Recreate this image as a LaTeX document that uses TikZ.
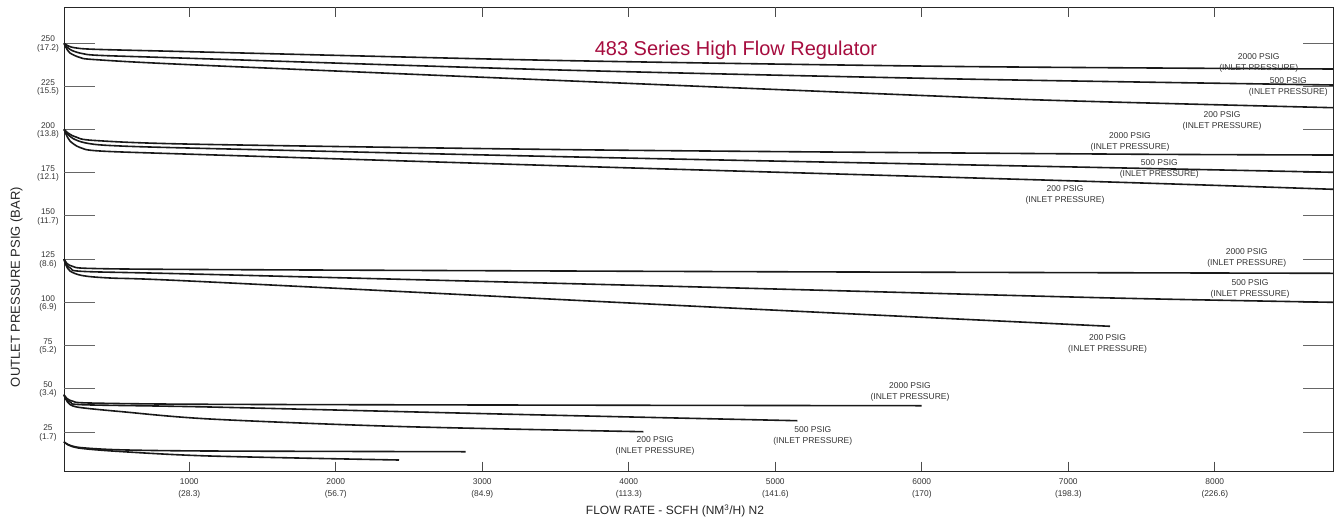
\documentclass[tikz,border=0pt]{standalone}
\usepackage{fontspec}
\setmainfont{Liberation Sans}
\definecolor{titlered}{RGB}{166,12,62}

\begin{document}
\begin{tikzpicture}[x=1pt,y=-1pt,
  curve/.style={line width=1.6pt,black!90,line join=round},
  ytick/.style={black!60,line width=0.9pt},
  xtick/.style={black!70,line width=0.9pt},
  ylab/.style={align=center,inner sep=0pt,text=black!80,font=\fontsize{8.3}{8.3}\selectfont},
  xlab/.style={align=center,inner sep=0pt,text=black!80,font=\fontsize{8.4}{11.6}\selectfont},
  inlet/.style={align=center,inner sep=0pt,text=black!80,font=\fontsize{8.5}{10.8}\selectfont}]
\useasboundingbox (0,0) rectangle (1338,520);
\draw[black!85,line width=1pt] (64,7) rectangle (1333,471);
% outlet pressure ticks, left and right
\draw[ytick] (64,43.0) -- (95,43.0);
\draw[ytick] (64,86.2) -- (95,86.2);
\draw[ytick] (64,129.4) -- (95,129.4);
\draw[ytick] (64,172.7) -- (95,172.7);
\draw[ytick] (64,215.9) -- (95,215.9);
\draw[ytick] (64,259.1) -- (95,259.1);
\draw[ytick] (64,302.3) -- (95,302.3);
\draw[ytick] (64,345.5) -- (95,345.5);
\draw[ytick] (64,388.7) -- (95,388.7);
\draw[ytick] (64,432.0) -- (95,432.0);
\draw[ytick] (1303,43.0) -- (1333,43.0);
\draw[ytick] (1303,86.2) -- (1333,86.2);
\draw[ytick] (1303,129.4) -- (1333,129.4);
\draw[ytick] (1303,172.7) -- (1333,172.7);
\draw[ytick] (1303,215.9) -- (1333,215.9);
\draw[ytick] (1303,259.1) -- (1333,259.1);
\draw[ytick] (1303,302.3) -- (1333,302.3);
\draw[ytick] (1303,345.5) -- (1333,345.5);
\draw[ytick] (1303,388.7) -- (1333,388.7);
\draw[ytick] (1303,432.0) -- (1333,432.0);
\node[ylab] (p250) at (48,44.0) {250\\(17.2)};
\node[ylab] (p225) at (48,87.2) {225\\(15.5)};
\node[ylab] (p200) at (48,130.4) {200\\(13.8)};
\node[ylab] (p175) at (48,173.7) {175\\(12.1)};
\node[ylab] (p150) at (48,216.9) {150\\(11.7)};
\node[ylab] (p125) at (48,260.1) {125\\(8.6)};
\node[ylab] (p100) at (48,303.3) {100\\(6.9)};
\node[ylab] (p75) at (48,346.5) {75\\(5.2)};
\node[ylab] (p50) at (48,389.7) {50\\(3.4)};
\node[ylab] (p25) at (48,433.0) {25\\(1.7)};
% flow rate ticks, top and bottom
\draw[xtick] (189.3,7) -- (189.3,17);
\draw[xtick] (335.8,7) -- (335.8,17);
\draw[xtick] (482.3,7) -- (482.3,17);
\draw[xtick] (628.8,7) -- (628.8,17);
\draw[xtick] (775.3,7) -- (775.3,17);
\draw[xtick] (921.8,7) -- (921.8,17);
\draw[xtick] (1068.3,7) -- (1068.3,17);
\draw[xtick] (1214.8,7) -- (1214.8,17);
\draw[xtick] (189.3,461.5) -- (189.3,471);
\draw[xtick] (335.8,461.5) -- (335.8,471);
\draw[xtick] (482.3,461.5) -- (482.3,471);
\draw[xtick] (628.8,461.5) -- (628.8,471);
\draw[xtick] (775.3,461.5) -- (775.3,471);
\draw[xtick] (921.8,461.5) -- (921.8,471);
\draw[xtick] (1068.3,461.5) -- (1068.3,471);
\draw[xtick] (1214.8,461.5) -- (1214.8,471);
\node[xlab] (q1000) at (189.3,488.4) {1000\\(28.3)};
\node[xlab] (q2000) at (335.8,488.4) {2000\\(56.7)};
\node[xlab] (q3000) at (482.3,488.4) {3000\\(84.9)};
\node[xlab] (q4000) at (628.8,488.4) {4000\\(113.3)};
\node[xlab] (q5000) at (775.3,488.4) {5000\\(141.6)};
\node[xlab] (q6000) at (921.8,488.4) {6000\\(170)};
\node[xlab] (q7000) at (1068.3,488.4) {7000\\(198.3)};
\node[xlab] (q8000) at (1214.8,488.4) {8000\\(226.6)};
% axis titles and heading
\node[rotate=90,inner sep=0pt,text=black!85,font=\fontsize{13}{15}\selectfont] (ytitle) at (16.5,287) {OUTLET PRESSURE PSIG (BAR)};
\node[inner sep=0pt,text=black!85,font=\fontsize{12}{14}\selectfont] (xtitle) at (675,511) {FLOW RATE - SCFH (NM\textsuperscript{3}/H) N2};
\node[anchor=base,inner sep=0pt,text=titlered,font=\fontsize{20}{24}\selectfont] (title) at (736,55) {483 Series High Flow Regulator};
% 250 psig set
\draw[curve] plot[smooth,tension=0.5] coordinates {(64,43.3) (68,45.8) (75,47.8) (95,49.3) (190,51.7) (560,60.5) (960,66.5) (1333,69)};
\draw[curve] plot[smooth,tension=0.5] coordinates {(64,43.3) (67,47) (72,50.5) (82,53.5) (100,55.4) (190,58.3) (560,70) (960,79) (1333,85)};
\draw[curve] plot[smooth,tension=0.5] coordinates {(64,43.3) (66,47.5) (70,53) (80,57.5) (95,59.6) (190,64.7) (560,80.5) (960,97) (1100,101.7) (1333,107.7)};
\node[inlet] (lbA2000) at (1258.7,63.0) {2000 PSIG\\(INLET PRESSURE)};
\node[inlet] (lbA500) at (1288.3,87.0) {500 PSIG\\(INLET PRESSURE)};
\node[inlet] (lbA200) at (1222,121.3) {200 PSIG\\(INLET PRESSURE)};
% 200 psig set
\draw[curve] plot[smooth,tension=0.5] coordinates {(64,129.3) (68,133) (76,137) (95,140.5) (200,144.3) (600,150) (1100,154) (1333,155)};
\draw[curve] plot[smooth,tension=0.5] coordinates {(64,129.3) (67,133.5) (73,138.5) (85,142.8) (110,145.5) (200,148.3) (600,157.5) (1100,167.5) (1333,172.3)};
\draw[curve] plot[smooth,tension=0.5] coordinates {(64,129.3) (66,134) (70,141) (80,147.5) (100,151) (200,154.5) (600,167) (1100,181.7) (1333,189.3)};
\node[inlet] (lbB2000) at (1130,142.3) {2000 PSIG\\(INLET PRESSURE)};
\node[inlet] (lbB500) at (1159.3,168.6) {500 PSIG\\(INLET PRESSURE)};
\node[inlet] (lbB200) at (1065,195.3) {200 PSIG\\(INLET PRESSURE)};
% 125 psig set
\draw[curve] plot[smooth,tension=0.5] coordinates {(64,259) (67,263.5) (73,266.5) (90,268.4) (200,269.5) (700,271.5) (1100,272.7) (1333,273.3)};
\draw[curve] plot[smooth,tension=0.5] coordinates {(64,259) (66,264) (71,268.5) (85,271.5) (200,274.2) (700,287) (1100,297.7) (1333,302.3)};
\draw[curve] plot[smooth,tension=0.5] coordinates {(64,259) (66,265) (70,271) (82,275.5) (110,278) (200,281.5) (700,306.5) (1110,326.3)};
\node[inlet] (lbC2000) at (1246.7,257.8) {2000 PSIG\\(INLET PRESSURE)};
\node[inlet] (lbC500) at (1250,289.0) {500 PSIG\\(INLET PRESSURE)};
\node[inlet] (lbC200) at (1107.5,343.6) {200 PSIG\\(INLET PRESSURE)};
% 50 psig set
\draw[curve] plot[smooth,tension=0.5] coordinates {(64,394.7) (67,398.5) (73,401.3) (90,403) (210,404.3) (600,405.2) (921.7,405.7)};
\draw[curve] plot[smooth,tension=0.5] coordinates {(64,394.7) (66,399) (71,402.5) (85,404.8) (210,407) (500,414) (797.3,420.7)};
\draw[curve] plot[smooth,tension=0.5] coordinates {(64,394.7) (66,399.5) (70,404.5) (80,407.5) (120,411.5) (210,419) (400,426.5) (643.3,431.7)};
\node[inlet] (lbD2000) at (910,392.3) {2000 PSIG\\(INLET PRESSURE)};
\node[inlet] (lbD500) at (812.8,435.6) {500 PSIG\\(INLET PRESSURE)};
\node[inlet] (lbD200) at (655,445.6) {200 PSIG\\(INLET PRESSURE)};
% 25 psig set
\draw[curve] plot[smooth,tension=0.5] coordinates {(64,441.7) (68,444.5) (80,447.5) (120,449.8) (210,451) (465.6,451.7)};
\draw[curve] plot[smooth,tension=0.5] coordinates {(64,441.7) (68,444.8) (80,448.2) (120,451.5) (210,456) (399,460)};
\end{tikzpicture}
\end{document}
